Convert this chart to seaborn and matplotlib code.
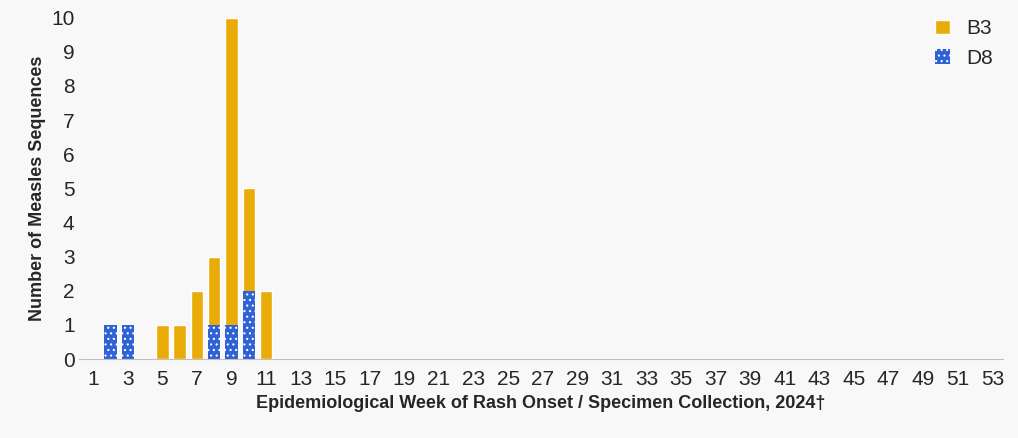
import matplotlib
matplotlib.use("Agg")
import matplotlib.pyplot as plt
import seaborn as sns
import pandas as pd
import numpy as np

weeks = list(range(1, 54))
d8 = [0]*53
b3 = [0]*53
d8_vals = {2: 1, 3: 1, 8: 1, 9: 1, 10: 2}
b3_vals = {5: 1, 6: 1, 7: 2, 8: 2, 9: 9, 10: 3, 11: 2}
for k, v in d8_vals.items(): d8[k-1] = v
for k, v in b3_vals.items(): b3[k-1] = v

sns.set_style("white")
plt.rcParams['font.family'] = ['Liberation Sans', 'DejaVu Sans']
plt.rcParams['hatch.color'] = "#8fb0ee"
plt.rcParams['hatch.linewidth'] = 0.8
fig, ax = plt.subplots(figsize=(10.18, 4.38), dpi=100)
fig.patch.set_facecolor("#f8f8f8")
ax.set_facecolor("#f8f8f8")

df = pd.DataFrame({"week": weeks, "D8": d8, "Total": np.array(d8) + np.array(b3)})
sns.barplot(data=df, x="week", y="Total", color="#E8AB07", width=0.72, ax=ax, saturation=1, label="B3")
sns.barplot(data=df, x="week", y="D8", color="#2F62D4", width=0.72, ax=ax, saturation=1, label="D8")
n = len(weeks)
for p in ax.patches[n:2*n]:
    p.set_hatch("...")
    p.set_linewidth(0)

ax.set_ylim(0, 10)
ax.set_yticks(range(0, 11))
ax.set_xlim(-0.8, 52.6)
ax.set_xticks(range(0, 53, 2))
ax.set_xticklabels([str(w) for w in range(1, 54, 2)])
ax.tick_params(axis='both', labelsize=15, length=0)
ax.tick_params(axis='x', pad=8)
for s in ["top", "right", "left"]:
    ax.spines[s].set_visible(False)
ax.spines["bottom"].set_color("#bfbfbf")
ax.set_xlabel("Epidemiological Week of Rash Onset / Specimen Collection, 2024\u2020", fontsize=13, fontweight="bold")
ax.set_ylabel("Number of Measles Sequences", fontsize=13, fontweight="bold")
ax.legend(loc="upper right", frameon=False, fontsize=15, handlelength=0.7, handleheight=0.7, bbox_to_anchor=(1.01, 1.05))
plt.subplots_adjust(left=0.078, right=0.985, top=0.96, bottom=0.18)
fig.savefig("out.png", dpi=100, facecolor=fig.get_facecolor())
